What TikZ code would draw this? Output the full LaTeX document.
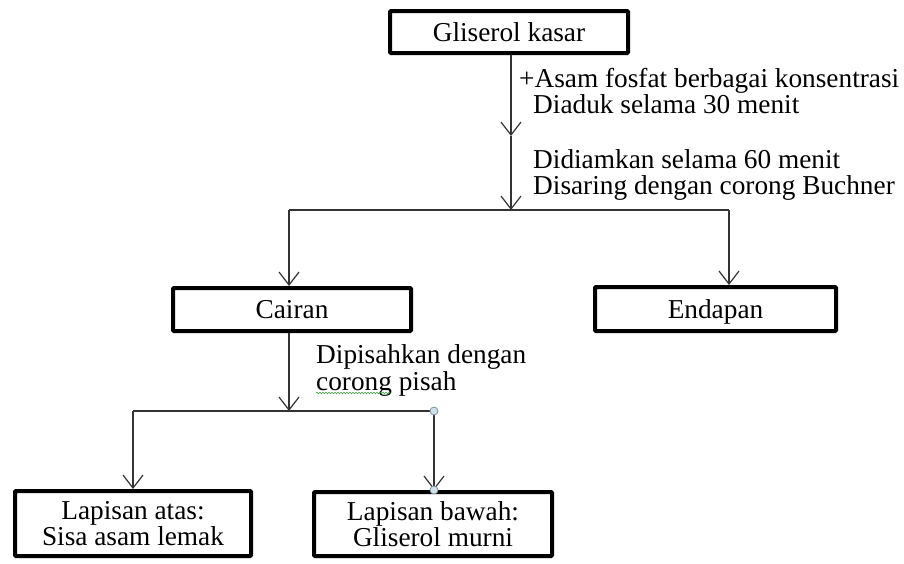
\documentclass[tikz,border=0pt]{standalone}
\usepackage{fontspec}
\setmainfont{Liberation Serif}
\usetikzlibrary{arrows.meta,decorations.pathmorphing}
\definecolor{dotfill}{RGB}{205,225,232}
\definecolor{dotline}{RGB}{130,150,160}
\definecolor{spell}{RGB}{60,160,60}
\begin{document}
\begin{tikzpicture}[x=1pt,y=-1pt,
  box/.style={draw, line width=4pt, inner sep=0pt, align=center, rounded corners=1pt,
    font=\fontsize{27.3}{26.5}\selectfont},
  onebox/.style={box, text height=18pt, text depth=0pt},
  lbl/.style={anchor=base west, inner sep=0pt, font=\fontsize{27.3}{27}\selectfont},
  conn/.style={line width=1.2pt, draw=black!80},
  arr/.style={conn, -{Straight Barb[length=13pt,width=20pt,line width=1.2pt]}},
  smalldot/.style={circle, draw=dotline, fill=dotfill, line width=0.8pt, minimum size=8pt, inner sep=0pt}
]
\useasboundingbox (0,0) rectangle (904,563);

% boxes
\node[onebox, minimum width=238pt, minimum height=42pt] (gk) at (509,32) {Gliserol kasar};
\node[onebox, minimum width=238pt, minimum height=43pt] (cairan) at (292,309.5) {Cairan};
\node[onebox, minimum width=241pt, minimum height=44pt] (endapan) at (715.5,309) {Endapan};
\node[box, minimum width=236pt, minimum height=65pt] (atas) at (133,523.5) {Lapisan atas:\\Sisa asam lemak};
\node[box, minimum width=238pt, minimum height=64pt] (bawah) at (433,524) {Lapisan bawah:\\Gliserol murni};

% annotations
\node[lbl] (a1) at (519,87) {+Asam fosfat berbagai konsentrasi};
\node[lbl] (a2) at (533,113) {Diaduk selama 30 menit};
\node[lbl] (a3) at (533,168) {Didiamkan selama 60 menit};
\node[lbl] (a4) at (533,194) {Disaring dengan corong Buchner};
\node[lbl] (a5) at (316,363) {Dipisahkan dengan};
\node[lbl] (a6) at (316,390) {corong pisah};
\draw[spell, line width=0.6pt, decorate, decoration={snake, amplitude=0.7pt, segment length=3pt}]
  ([yshift=-3pt]a6.base west) -- ++(75,0);

% junction points
\coordinate (m1) at (511,136);
\coordinate (j1) at (511,210);
\coordinate (jl) at (289,210);
\coordinate (jr) at (729,210);
\coordinate (j2) at (289,411);
\coordinate (j2l) at (133,411);
\coordinate (j2r) at (434,411);

% connectors
\draw[arr] (gk.south -| j1) -- (m1);
\draw[arr] (m1) -- (j1);
\draw[conn] (jl) -- (jr);
\draw[arr] (jl) -- (jl |- cairan.north);
\draw[arr] (jr) -- (jr |- endapan.north);
\draw[arr] (cairan.south -| j2) -- (j2);
\draw[conn] (j2l) -- (j2r);
\draw[arr] (j2l) -- (j2l |- atas.north);
\draw[arr] (j2r) -- (j2r |- bawah.north);
\node[smalldot] (d1) at (j2r) {};
\node[smalldot] (d2) at (j2r |- bawah.north) {};
\end{tikzpicture}
\end{document}
